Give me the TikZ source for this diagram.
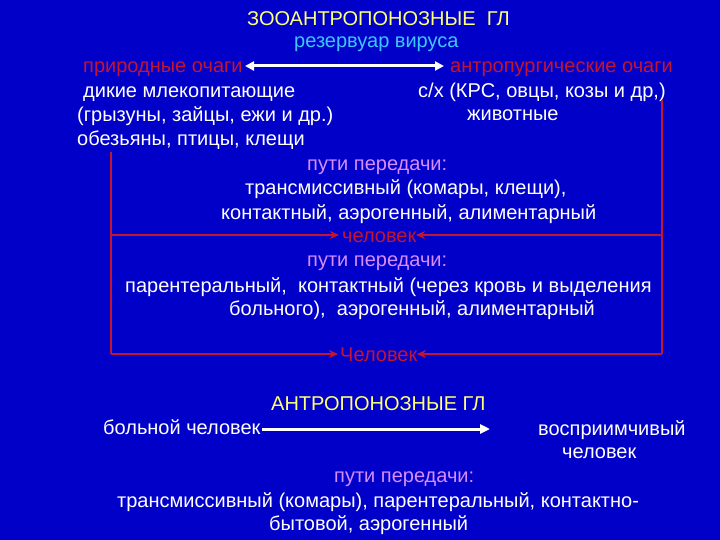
\documentclass[tikz,border=0pt]{standalone}
\usepackage{fontspec}
\setmainfont{Liberation Sans}
\usetikzlibrary{arrows.meta}
\definecolor{bg}{RGB}{0,0,200}
\definecolor{ttl}{RGB}{255,255,120}
\definecolor{cy}{RGB}{60,200,255}
\definecolor{rd}{RGB}{195,20,50}
\definecolor{vi}{RGB}{215,140,255}
\tikzset{
  txt/.style={anchor=base west,inner sep=0pt,font=\fontsize{20}{22}\selectfont,text=white},
  ttlt/.style={txt,text=ttl},
  cyt/.style={txt,text=cy},
  rdt/.style={txt,text=rd},
  vit/.style={txt,text=vi},
  wline/.style={draw=white,line width=3pt},
  rline/.style={draw=rd,line width=2.4pt},
  rarr/.style={rline,-{Stealth[length=9pt,width=8pt]}},
}
\begin{document}
\begin{tikzpicture}[x=1pt,y=-1pt]
\fill[bg] (0,0) rectangle (720,540);
\useasboundingbox (0,0) rectangle (720,540);
% top block
\node[ttlt] (t1) at (247,26) {ЗООАНТРОПОНОЗНЫЕ\ \ ГЛ};
\node[cyt] (res) at (294,48) {резервуар вируса};
\node[rdt] (nat) at (83,73) {природные очаги};
\node[rdt] (ant) at (450,73) {антропургические очаги};
\node[txt] (w1) at (83,98) {дикие млекопитающие};
\node[txt] (w2) at (77,122) {(грызуны, зайцы, ежи и др.)};
\node[txt] (w3) at (77,146) {обезьяны, птицы, клещи};
\node[txt] (d1) at (418,98) {с/х (КРС, овцы, козы и др,)};
\node[txt] (d2) at (467,121) {животные};
\node[vit] (p1) at (307,171) {пути передачи:};
\node[txt] (m1) at (245,195) {трансмиссивный (комары, клещи),};
\node[txt] (m2) at (221,219) {контактный, аэрогенный, алиментарный};
\node[rdt] (h1) at (342,242) {человек};
\node[vit] (p2) at (307,266) {пути передачи:};
\node[txt] (m3) at (125,292) {парентеральный,\ \ контактный (через кровь и выделения};
\node[txt] (m4) at (229,315) {больного),\ \ аэрогенный, алиментарный};
\node[rdt] (h2) at (340,361) {Человек};
% bottom block
\node[ttlt] (t2) at (271,410) {АНТРОПОНОЗНЫЕ ГЛ};
\node[txt] (sick) at (103,434) {больной человек};
\node[txt] (sus1) at (538,435) {восприимчивый};
\node[txt] (sus2) at (562,458) {человек};
\node[vit] (p3) at (334,482) {пути передачи:};
\node[txt] (m5) at (117,507) {трансмиссивный (комары), парентеральный, контактно-};
\node[txt] (m6) at (269,530) {бытовой, аэрогенный};
% white arrows
\coordinate (a1) at (245,66);
\coordinate (a2) at (444,66);
\coordinate (a3) at (262,429);
\coordinate (a4) at (490,429);
\draw[wline,{Triangle[length=9pt,width=9pt]}-{Triangle[length=9pt,width=9pt]}] (a1) -- (a2);
\draw[wline,-{Triangle[length=10pt,width=9pt]}] (a3) -- (a4);
% red frame
\coordinate (lt) at (111,152);
\coordinate (rt) at (662,100);
\coordinate (lm) at (111,235);
\coordinate (rm) at (662,235);
\coordinate (lb) at (111,354);
\coordinate (rb) at (662,354);
\draw[rline] (lt) -- (lb);
\draw[rline] (rt) -- (rb);
\draw[rarr] (lm) -- (339,235);
\draw[rarr] (rm) -- (416,235);
\draw[rarr] (lb) -- (338,354);
\draw[rarr] (rb) -- (417,354);
\end{tikzpicture}
\end{document}
